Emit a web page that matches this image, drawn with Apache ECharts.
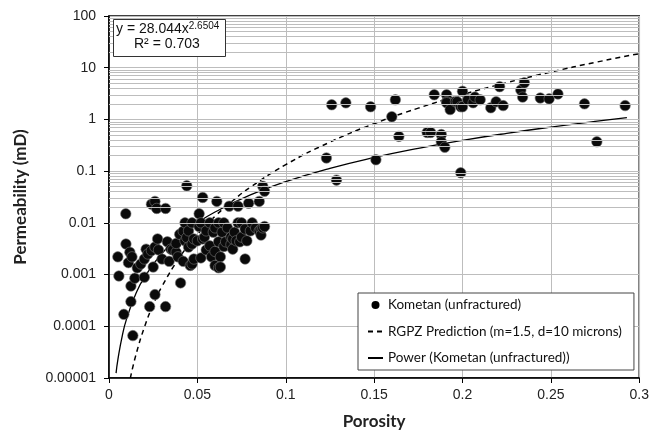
<!DOCTYPE html>
<html>
<head>
<meta charset="utf-8">
<script src="https://cdn.jsdelivr.net/npm/echarts@6/dist/echarts.min.js"></script>
<style>
  html, body { margin: 0; padding: 0; background: #fff; }
  #chart { width: 652px; height: 435px; }
</style>
</head>
<body>
<div id="chart"></div>
<script>
// Kometan (unfractured) samples, porosity (fraction) vs permeability (mD)
const kometanPorosity = [
  0.005, 0.0056, 0.0084, 0.0095, 0.0096, 0.011, 0.0118, 0.0124, 0.0124, 0.013,
  0.0135, 0.0146, 0.016, 0.018, 0.02, 0.02, 0.021, 0.022, 0.023, 0.024,
  0.024, 0.025, 0.026, 0.026, 0.026, 0.027, 0.0275, 0.028, 0.03, 0.032,
  0.032, 0.033, 0.034, 0.035, 0.036, 0.038, 0.038, 0.039, 0.04, 0.0405,
  0.042, 0.042, 0.043, 0.043, 0.044, 0.044, 0.045, 0.045, 0.046, 0.047,
  0.047, 0.047, 0.048, 0.048, 0.05, 0.051, 0.051, 0.052, 0.052, 0.053,
  0.053, 0.054, 0.055, 0.055, 0.057, 0.057, 0.058, 0.059, 0.06, 0.06,
  0.06, 0.061, 0.062, 0.062, 0.062, 0.063, 0.063, 0.064, 0.065, 0.065,
  0.066, 0.067, 0.068, 0.069, 0.069, 0.07, 0.07, 0.071, 0.072, 0.073,
  0.073, 0.074, 0.075, 0.075, 0.077, 0.077, 0.078, 0.079, 0.08, 0.081,
  0.083, 0.085, 0.085, 0.086, 0.086, 0.087, 0.087, 0.088, 0.088,
  0.123, 0.126, 0.1287, 0.134, 0.148, 0.151, 0.16, 0.162, 0.164, 0.18,
  0.182, 0.184, 0.188, 0.188, 0.19, 0.191, 0.191, 0.191, 0.193, 0.196,
  0.197, 0.199, 0.199, 0.2, 0.2, 0.203, 0.206, 0.207, 0.21, 0.216,
  0.219, 0.221, 0.223, 0.233, 0.234, 0.235, 0.244, 0.249, 0.254, 0.269,
  0.276, 0.292
]
const kometanPerm = [
  0.0022, 0.00094, 0.00017, 0.015, 0.0039, 0.0017, 0.0027, 0.0006, 0.0003, 0.0022,
  0.000066, 0.00085, 0.00135, 0.0016, 0.002, 0.00089, 0.0031, 0.0025, 0.00024, 0.023,
  0.0029, 0.0014, 0.026, 0.0034, 0.00041, 0.019, 0.0049, 0.003, 0.002, 0.019,
  0.00024, 0.0043, 0.0018, 0.0031, 0.003, 0.0027, 0.004, 0.0022, 0.006, 0.00069,
  0.0069, 0.0018, 0.01, 0.0045, 0.052, 0.0052, 0.0034, 0.007, 0.0015, 0.0039,
  0.0016, 0.01, 0.0049, 0.002, 0.0045, 0.015, 0.0085, 0.01, 0.0021, 0.031,
  0.0049, 0.0053, 0.007, 0.003, 0.01, 0.0036, 0.0022, 0.0066, 0.008, 0.0028,
  0.0015, 0.026, 0.01, 0.0043, 0.00135, 0.0022, 0.0014, 0.0066, 0.01, 0.0035,
  0.0043, 0.008, 0.021, 0.0053, 0.0038, 0.0049, 0.0031, 0.0066, 0.0045, 0.021,
  0.01, 0.0043, 0.01, 0.0053, 0.0076, 0.002, 0.0045, 0.024, 0.007, 0.01,
  0.008, 0.026, 0.007, 0.0076, 0.0058, 0.051, 0.008, 0.041, 0.0085,
  0.18, 1.92, 0.067, 2.09, 1.76, 0.166, 1.13, 2.4, 0.47, 0.56,
  0.56, 3.0, 0.51, 0.37, 0.29, 3.0, 2.2, 2.1, 1.55, 2.2,
  2.2, 1.76, 0.093, 3.5, 1.76, 2.4, 2.1, 2.7, 2.4, 1.68,
  2.2, 4.3, 1.85, 3.7, 2.7, 5.1, 2.6, 2.5, 3.1, 2.0,
  0.37, 1.85
]

// RGPZ prediction curve (m=1.5, d=10 microns)
const rgpzPorosity = [0.0121, 0.015, 0.02, 0.025, 0.03, 0.04, 0.05, 0.06, 0.07, 0.08,
  0.1, 0.125, 0.15, 0.175, 0.2, 0.225, 0.25, 0.275, 0.3]
const rgpzPerm = [0.00001, 0.0000262, 0.0000955, 0.000261, 0.000592, 0.00216, 0.0059, 0.0134, 0.0268, 0.0489,
  0.1335, 0.364, 0.827, 1.655, 3.02, 5.13, 8.25, 12.66, 18.7]

// power trendline y = 28.044x^2.6504
const powerPorosity = [0.004, 0.005, 0.0075, 0.01, 0.015, 0.02, 0.03, 0.04, 0.05, 0.06,
  0.08, 0.1, 0.125, 0.15, 0.175, 0.2, 0.225, 0.25, 0.275, 0.293]
const powerPerm = [0.0000124, 0.0000224, 0.0000655, 0.0001405, 0.000411, 0.000881, 0.00258, 0.00553, 0.00998, 0.0162,
  0.0348, 0.0627, 0.1134, 0.1837, 0.2765, 0.3937, 0.538, 0.7115, 0.9156, 1.0836]

const yTickLabels = ['0.00001', '0.0001', '0.001', '0.01', '0.1', '1', '10', '100']

const seriesNames = ['Kometan (unfractured)', 'RGPZ Prediction (m=1.5, d=10 microns)', 'Power (Kometan (unfractured))']

const zip = (xs, ys) => xs.map((x, i) => [x, ys[i]])

// minor log gridlines (2..9 in each decade)
const minorLines = []
for (let e = -5; e < 2; e++) {
  for (let m = 2; m <= 9; m++) {
    minorLines.push({ yAxis: m * Math.pow(10, e) })
  }
}

const tickFont = { fontFamily: 'Liberation Sans', fontSize: 14, color: '#222' }
const titleFont = { fontFamily: 'Lato', fontWeight: 'bold', fontSize: 17, color: '#222' }
const gridColor = '#bdbdbd'
// hide the symbol that line series put in their legend icon
const noSymbol = { color: 'rgba(0,0,0,0)', borderColor: 'rgba(0,0,0,0)', borderWidth: 0 }

const chart = echarts.init(document.getElementById('chart'), null, { renderer: 'canvas' })

const option = {
  animation: false,
  backgroundColor: '#fff',
  grid: {
    left: 109,
    right: 10,
    top: 16,
    bottom: 56,
    show: true,
    borderColor: '#000',
    borderWidth: 1.5,
    backgroundColor: '#fff'
  },
  xAxis: {
    type: 'value',
    min: 0,
    max: 0.3,
    interval: 0.05,
    name: 'Porosity',
    nameLocation: 'middle',
    nameGap: 35,
    nameTextStyle: titleFont,
    axisLine: { show: true, lineStyle: { color: '#000', width: 1.5 } },
    axisTick: { show: true, length: 5, lineStyle: { color: '#000' } },
    axisLabel: Object.assign({ margin: 10 }, tickFont),
    splitLine: { show: true, lineStyle: { color: gridColor, width: 1 } }
  },
  yAxis: {
    type: 'log',
    logBase: 10,
    min: 0.00001,
    max: 100,
    name: 'Permeability (mD)',
    nameLocation: 'middle',
    nameGap: 80,
    nameTextStyle: titleFont,
    axisLine: { show: true, lineStyle: { color: '#000', width: 1.5 } },
    axisTick: { show: true, length: 5, lineStyle: { color: '#000' } },
    axisLabel: Object.assign({
      margin: 13,
      formatter: (v) => yTickLabels[Math.round(Math.log10(v)) + 5]
    }, tickFont),
    splitLine: { show: true, lineStyle: { color: gridColor, width: 1 } }
  },
  legend: {
    orient: 'vertical',
    left: 358,
    top: 293,
    padding: [5, 12, 5, 9],
    itemGap: 12.5,
    itemWidth: 15,
    itemHeight: 8,
    backgroundColor: '#fff',
    borderColor: '#444',
    borderWidth: 1,
    borderRadius: 0,
    textStyle: { fontFamily: 'Lato', fontSize: 13.5, color: '#111' },
    data: [
      { name: seriesNames[0], icon: 'circle', itemStyle: { color: '#000', borderWidth: 0 } },
      { name: seriesNames[1], itemStyle: noSymbol },
      { name: seriesNames[2], itemStyle: noSymbol }
    ]
  },
  graphic: [
    {
      type: 'rect',
      left: 113,
      top: 19,
      z: 100,
      shape: { width: 112, height: 37 },
      style: { fill: '#fff', stroke: '#333', lineWidth: 1 }
    },
    {
      type: 'text',
      left: 116,
      top: 21,
      z: 101,
      style: {
        text: '{a|y = 28.044x}{b|2.6504}',
        rich: {
          a: { fontFamily: 'Liberation Sans', fontSize: 14, lineHeight: 16, fill: '#111' },
          b: { fontFamily: 'Liberation Sans', fontSize: 10, lineHeight: 10, verticalAlign: 'top', fill: '#111' }
        }
      }
    },
    {
      type: 'text',
      left: 134,
      top: 37,
      z: 101,
      style: {
        text: 'R² = 0.703',
        font: '14px "Liberation Sans"',
        fill: '#111'
      }
    }
  ],
  series: [
    {
      type: 'line',
      data: [],
      z: 1,
      silent: true,
      markLine: {
        silent: true,
        symbol: 'none',
        label: { show: false },
        lineStyle: { color: gridColor, width: 1, type: 'solid' },
        emphasis: { disabled: true },
        data: minorLines
      }
    },
    {
      name: seriesNames[1],
      type: 'line',
      data: zip(rgpzPorosity, rgpzPerm),
      symbol: 'none',
      smooth: true,
      z: 3,
      lineStyle: { color: '#000', width: 1.5, type: [5, 4] },
      itemStyle: { color: '#000' }
    },
    {
      name: seriesNames[2],
      type: 'line',
      data: zip(powerPorosity, powerPerm),
      symbol: 'none',
      smooth: true,
      z: 3,
      lineStyle: { color: '#000', width: 1.3 },
      itemStyle: { color: '#000' }
    },
    {
      name: seriesNames[0],
      type: 'scatter',
      data: zip(kometanPorosity, kometanPerm),
      symbol: 'circle',
      symbolSize: 10.5,
      z: 4,
      itemStyle: { color: '#0a0a0a', borderColor: '#777', borderWidth: 0.6, opacity: 1 }
    }
  ]
}

chart.setOption(option)
</script>
</body>
</html>
